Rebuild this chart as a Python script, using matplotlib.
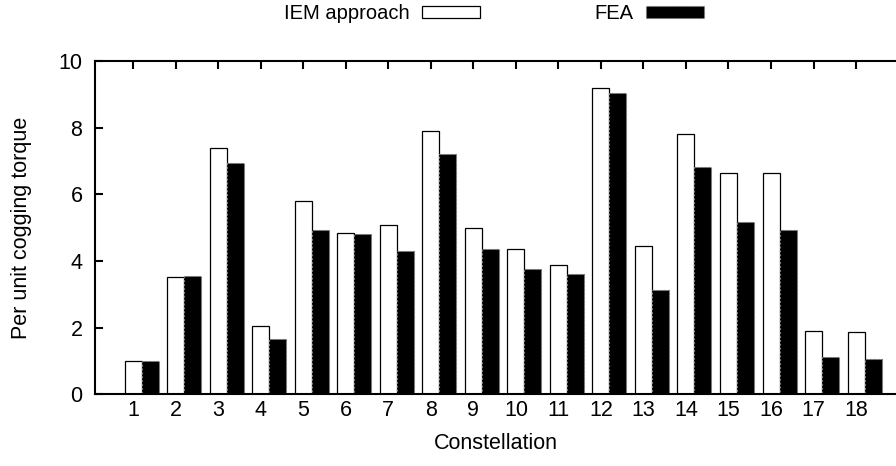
import matplotlib
matplotlib.use("Agg")
import matplotlib.pyplot as plt
import numpy as np

# per unit cogging torque for each constellation
constellations = list(range(1, 19))
iem_values = [1.0, 3.52, 7.38, 2.06, 5.80, 4.83, 5.09, 7.89, 4.98,
              4.37, 3.88, 9.18, 4.46, 7.80, 6.65, 6.65, 1.91, 1.87]
fea_values = [1.0, 3.54, 6.94, 1.66, 4.92, 4.82, 4.30, 7.21, 4.35,
              3.76, 3.60, 9.04, 3.12, 6.82, 5.17, 4.92, 1.13, 1.06]
yticks = [0, 2, 4, 6, 8, 10]

plt.rcParams.update({
    "font.family": ["Liberation Sans", "DejaVu Sans"],
    "font.size": 15.5,
})

fig = plt.figure(figsize=(8.96, 4.66), dpi=100)
ax = fig.add_axes([0.106, 0.1539, 0.894, 0.7155])

x = np.array(constellations, dtype=float)
width = 0.4
ax.bar(x, iem_values, width, color="white", edgecolor="black",
       linewidth=0.9, label="IEM approach", zorder=2)
ax.bar(x + width, fea_values, width, color="black", edgecolor="#777777",
       linewidth=0.8, linestyle=(0, (2, 1.5)), label="FEA", zorder=2)

ax.set_xlim(0.099, 18.94)
ax.set_ylim(0, 10)
ax.set_xticks(constellations)
ax.set_yticks(yticks)

for side in ["left", "top", "bottom"]:
    ax.spines[side].set_linewidth(1.5)
ax.spines["right"].set_visible(False)

ax.tick_params(axis="x", bottom=False, top=True, direction="in",
               length=5.8, width=1.5, pad=4)
ax.tick_params(axis="y", left=True, right=False, direction="in",
               length=5.8, width=1.5, pad=9)

ax.set_xlabel("Constellation", labelpad=8.5)
ax.set_ylabel("Per unit cogging torque")
ax.yaxis.set_label_coords(-0.079, 0.5)

fig.legend(loc="center", bbox_to_anchor=(0.551, 0.971), ncol=2,
           frameon=False, markerfirst=False, handlelength=2.85,
           handleheight=0.55, handletextpad=0.65, columnspacing=5.7,
           borderpad=0.0, fontsize=14.5)

fig.savefig("out.png", dpi=100)
